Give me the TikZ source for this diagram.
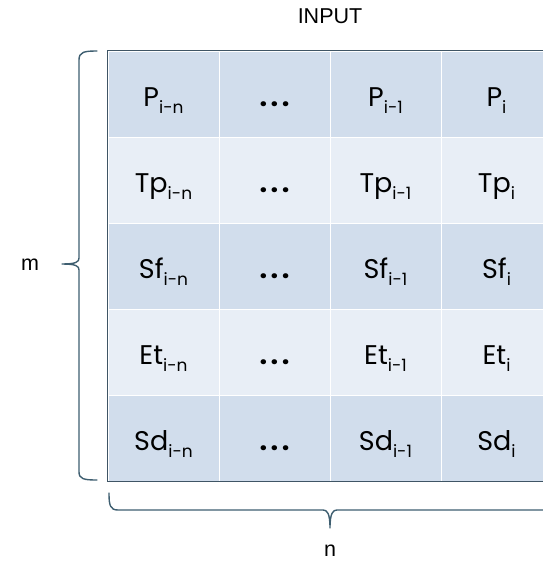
\documentclass[tikz,border=0pt]{standalone}
\usepackage{fontspec}
\setmainfont{Poppins}
\newfontfamily\labelfont{Liberation Sans}
\begin{document}
\begin{tikzpicture}[x=1pt,y=-1pt,
  cell/.style={minimum width=111pt,minimum height=86pt,inner sep=0pt,
    text height=25pt,text depth=0pt,
    draw=white,line width=0.8pt,font=\fontsize{27}{27}\selectfont},
  darkrow/.style={cell,fill=rowdark},
  lightrow/.style={cell,fill=rowlight},
  brace/.style={draw=braceclr,line width=1.4pt,line cap=round,line join=round},
  lbl/.style={font=\labelfont\fontsize{21.5}{21.5}\selectfont,text=black}]
\definecolor{rowdark}{HTML}{D1DDEC}
\definecolor{rowlight}{HTML}{E8EEF6}
\definecolor{braceclr}{HTML}{3E5E70}
\definecolor{frameclr}{HTML}{3F5565}
\newcommand{\lowidx}[1]{\raisebox{-7pt}{\fontsize{17}{17}\selectfont #1}}
\newcommand{\cdotsrow}{\textbf{.\kern3.5pt.\kern3.5pt.}}
\useasboundingbox (0,0) rectangle (542,565);
% cells, row by row
\foreach \name/\sty [count=\ri from 0] in {P/darkrow,Tp/lightrow,Sf/darkrow,Et/lightrow,Sd/darkrow}{
  \node[\sty] (c\ri-0) at (163.5,{94+86*\ri}) {\name\lowidx{i-n}};
  \node[\sty] (c\ri-1) at (274.5,{94+86*\ri}) {\cdotsrow};
  \node[\sty] (c\ri-2) at (385.5,{94+86*\ri}) {\name\lowidx{i-1}};
  \node[\sty] (c\ri-3) at (496.5,{94+86*\ri}) {\name\lowidx{i}};
}
% outer frame of the table
\draw[frameclr,line width=1.3pt] (c0-0.north west) rectangle (c4-3.south east);
% labels
\node[lbl] (input) at (330,16) {INPUT};
\node[lbl] (m) at (30,265) {m};
\node[lbl] (n) at (330,551) {n};
% left brace
\coordinate (lt) at (97,51);
\coordinate (lb) at (97,480);
\coordinate (lm) at (62,264);
\draw[brace] (lt) .. controls (84,51) and (79,52) .. (79,60)
  -- (79,258) .. controls (79,262) and (76,264) .. (lm)
  (lm) .. controls (76,264) and (79,266) .. (79,270)
  -- (79,472) .. controls (79,479) and (84,480) .. (lb);
% bottom brace
\coordinate (bl) at (109,493);
\coordinate (bm) at (330,528);
\draw[brace] (bl) .. controls (109,505) and (110,510) .. (118,510)
  -- (323,510) .. controls (327,510) and (330,513) .. (bm)
  (bm) .. controls (330,513) and (333,510) .. (337,510) -- (560,510);
\end{tikzpicture}
\end{document}
